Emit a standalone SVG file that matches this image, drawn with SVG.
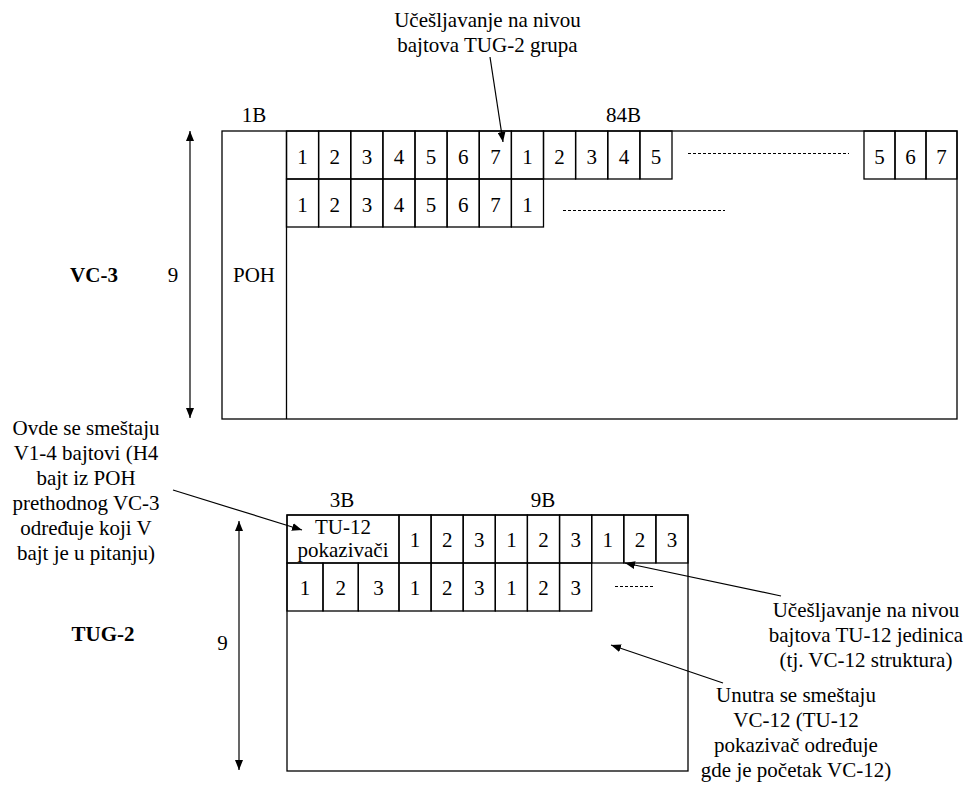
<svg xmlns="http://www.w3.org/2000/svg" width="967" height="789" viewBox="0 0 967 789" font-family="'Liberation Serif', Tinos, 'Times New Roman', 'DejaVu Serif', serif">
<style>
text{font-family:'Liberation Serif',Tinos,'Times New Roman','DejaVu Serif',serif;font-size:21px;fill:#000;text-anchor:middle}
.b{font-weight:bold}
.box{fill:none;stroke:#000;stroke-width:1.3}
.ln{fill:none;stroke:#000;stroke-width:1.2}
.dash{fill:none;stroke:#000;stroke-width:1;stroke-dasharray:3 2}
</style>
<defs>
<marker id="ah" viewBox="0 0 10 8" refX="10" refY="4" markerWidth="10" markerHeight="8" markerUnits="userSpaceOnUse" orient="auto-start-reverse">
<path d="M0,0 L10,4 L0,8 z" fill="#000"/>
</marker>
</defs>
<rect width="967" height="789" fill="#fff"/>

<g id="vc3">
<rect class="box" x="222" y="131" width="735" height="288"/>
<line class="box" x1="286.5" y1="131" x2="286.5" y2="419"/>
<text x="254" y="282">POH</text>
<g id="vc3-row1">
<rect class="box" x="286.5" y="131" width="32.1" height="48"/><text x="302.6" y="163.5">1</text>
<rect class="box" x="318.6" y="131" width="32.1" height="48"/><text x="334.7" y="163.5">2</text>
<rect class="box" x="350.8" y="131" width="32.1" height="48"/><text x="366.9" y="163.5">3</text>
<rect class="box" x="382.9" y="131" width="32.1" height="48"/><text x="399" y="163.5">4</text>
<rect class="box" x="415" y="131" width="32.1" height="48"/><text x="431.1" y="163.5">5</text>
<rect class="box" x="447.1" y="131" width="32.1" height="48"/><text x="463.2" y="163.5">6</text>
<rect class="box" x="479.3" y="131" width="32.1" height="48"/><text x="495.4" y="163.5">7</text>
<rect class="box" x="511.4" y="131" width="32.1" height="48"/><text x="527.5" y="163.5">1</text>
<rect class="box" x="543.5" y="131" width="32.1" height="48"/><text x="559.6" y="163.5">2</text>
<rect class="box" x="575.6" y="131" width="32.1" height="48"/><text x="591.7" y="163.5">3</text>
<rect class="box" x="607.8" y="131" width="32.1" height="48"/><text x="623.9" y="163.5">4</text>
<rect class="box" x="639.9" y="131" width="32.1" height="48"/><text x="656" y="163.5">5</text>
<rect class="box" x="864" y="131" width="31" height="48"/><text x="879.5" y="163.5">5</text>
<rect class="box" x="895" y="131" width="31" height="48"/><text x="910.5" y="163.5">6</text>
<rect class="box" x="926" y="131" width="31" height="48"/><text x="941.5" y="163.5">7</text>
<line class="dash" x1="688" y1="153.5" x2="849" y2="153.5"/>
</g>
<g id="vc3-row2">
<rect class="box" x="286.5" y="179" width="32.1" height="48"/><text x="302.6" y="211.5">1</text>
<rect class="box" x="318.6" y="179" width="32.1" height="48"/><text x="334.7" y="211.5">2</text>
<rect class="box" x="350.8" y="179" width="32.1" height="48"/><text x="366.9" y="211.5">3</text>
<rect class="box" x="382.9" y="179" width="32.1" height="48"/><text x="399" y="211.5">4</text>
<rect class="box" x="415" y="179" width="32.1" height="48"/><text x="431.1" y="211.5">5</text>
<rect class="box" x="447.1" y="179" width="32.1" height="48"/><text x="463.2" y="211.5">6</text>
<rect class="box" x="479.3" y="179" width="32.1" height="48"/><text x="495.4" y="211.5">7</text>
<rect class="box" x="511.4" y="179" width="32.1" height="48"/><text x="527.5" y="211.5">1</text>
<line class="dash" x1="563" y1="210.5" x2="725" y2="210.5"/>
</g>
</g>

<g id="tug2">
<rect class="box" x="287" y="515" width="401" height="256"/>
<g id="tug2-row1">
<rect class="box" x="287" y="515" width="112" height="48"/>
<text x="343" y="534">TU-12</text>
<text x="343" y="557">pokazivači</text>
<rect class="box" x="399" y="515" width="32.1" height="48"/><text x="415" y="547">1</text>
<rect class="box" x="431.1" y="515" width="32.1" height="48"/><text x="447.2" y="547">2</text>
<rect class="box" x="463.2" y="515" width="32.1" height="48"/><text x="479.3" y="547">3</text>
<rect class="box" x="495.3" y="515" width="32.1" height="48"/><text x="511.4" y="547">1</text>
<rect class="box" x="527.4" y="515" width="32.1" height="48"/><text x="543.5" y="547">2</text>
<rect class="box" x="559.6" y="515" width="32.1" height="48"/><text x="575.7" y="547">3</text>
<rect class="box" x="591.7" y="515" width="32.1" height="48"/><text x="607.8" y="547">1</text>
<rect class="box" x="623.8" y="515" width="32.1" height="48"/><text x="639.9" y="547">2</text>
<rect class="box" x="655.9" y="515" width="32.1" height="48"/><text x="672" y="547">3</text>
</g>
<g id="tug2-row2">
<rect class="box" x="287" y="563" width="36" height="48"/><text x="305" y="595">1</text>
<rect class="box" x="323" y="563" width="35.3" height="48"/><text x="340.7" y="595">2</text>
<rect class="box" x="358.3" y="563" width="40.7" height="48"/><text x="378.6" y="595">3</text>
<rect class="box" x="399" y="563" width="32.1" height="48"/><text x="415" y="595">1</text>
<rect class="box" x="431.1" y="563" width="32.1" height="48"/><text x="447.2" y="595">2</text>
<rect class="box" x="463.2" y="563" width="32.1" height="48"/><text x="479.3" y="595">3</text>
<rect class="box" x="495.3" y="563" width="32.1" height="48"/><text x="511.4" y="595">1</text>
<rect class="box" x="527.4" y="563" width="32.1" height="48"/><text x="543.5" y="595">2</text>
<rect class="box" x="559.6" y="563" width="32.1" height="48"/><text x="575.7" y="595">3</text>
<line class="dash" x1="615" y1="586.5" x2="655" y2="586.5"/>
</g>
</g>

<g id="labels">
<text x="254" y="122">1B</text>
<text x="623.5" y="122">84B</text>
<text class="b" x="94" y="282">VC-3</text>
<text x="173" y="282">9</text>
<text x="342" y="507">3B</text>
<text x="543" y="507">9B</text>
<text class="b" x="103" y="641">TUG-2</text>
<text x="222.5" y="650">9</text>
<g id="note-top">
<text x="487.5" y="27">Učešljavanje na nivou</text>
<text x="487.5" y="52">bajtova TUG-2 grupa</text>
</g>
<g id="note-left">
<text x="86" y="435">Ovde se smeštaju</text>
<text x="86" y="460">V1-4 bajtovi (H4</text>
<text x="86" y="485">bajt iz POH</text>
<text x="86" y="510">prethodnog VC-3</text>
<text x="86" y="535">određuje koji V</text>
<text x="86" y="560">bajt je u pitanju)</text>
</g>
<g id="note-right1">
<text x="866" y="617">Učešljavanje na nivou</text>
<text x="866" y="642">bajtova TU-12 jedinica</text>
<text x="866" y="667">(tj. VC-12 struktura)</text>
</g>
<g id="note-right2">
<text x="796" y="702">Unutra se smeštaju</text>
<text x="796" y="727">VC-12 (TU-12</text>
<text x="796" y="752">pokazivač određuje</text>
<text x="796" y="777">gde je početak VC-12)</text>
</g>
</g>

<g id="connectors">
<line class="ln" x1="190" y1="131" x2="190" y2="418" marker-start="url(#ah)" marker-end="url(#ah)"/>
<line class="ln" x1="239" y1="521" x2="239" y2="770" marker-start="url(#ah)" marker-end="url(#ah)"/>
<line class="ln" x1="490" y1="57" x2="503" y2="142" marker-end="url(#ah)"/>
<line class="ln" x1="173" y1="490" x2="302" y2="530" marker-end="url(#ah)"/>
<line class="ln" x1="781" y1="596" x2="625" y2="563" marker-end="url(#ah)"/>
<line class="ln" x1="723" y1="683" x2="611" y2="645" marker-end="url(#ah)"/>
</g>
</svg>
